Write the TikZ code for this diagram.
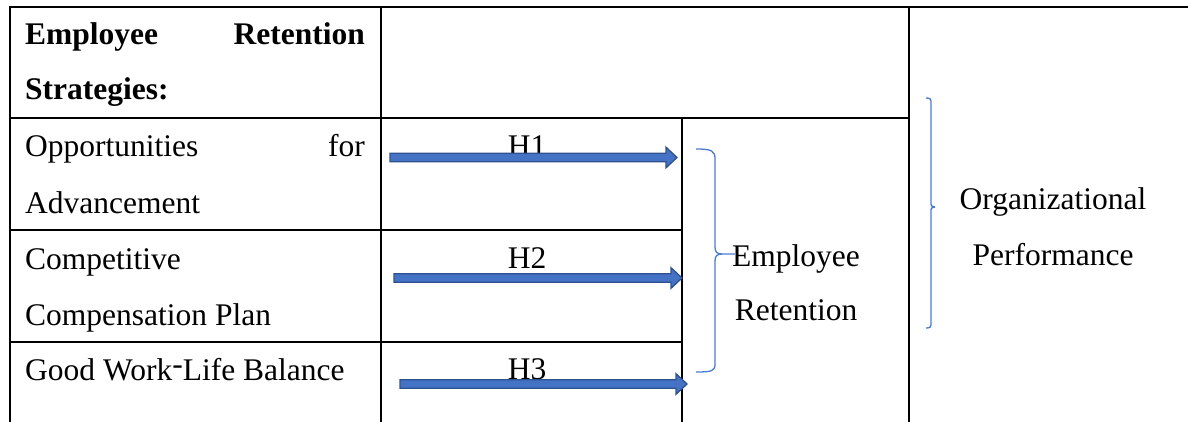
\documentclass[tikz,border=0pt]{standalone}
\usepackage{fontspec}
\setmainfont{Liberation Serif}
\usetikzlibrary{calc}
\definecolor{arrfill}{HTML}{4472C4}
\definecolor{arrline}{HTML}{2F528F}
\definecolor{bracecol}{HTML}{4A7BD0}
\tikzset{
  grid/.style={line width=1.9pt, black, line cap=rect},
  txt/.style={inner sep=0pt, font=\fontsize{31.5}{38}\selectfont},
  btxt/.style={txt, font=\fontsize{31.5}{38}\selectfont\bfseries},
  barrow/.style={fill=arrfill, draw=arrline, line width=1.3pt, line join=miter},
  bracepath/.style={draw=bracecol, line width=1.3pt}
}
\newcommand{\blockarr}[2]{%
  \draw[barrow] ($(#1)+(0,-4.3)$) -- ($(#2)+(-11,-4.3)$) -- ($(#2)+(-11,-10.3)$) -- (#2)
    -- ($(#2)+(-11,10.3)$) -- ($(#2)+(-11,4.3)$) -- ($(#1)+(0,4.3)$) -- cycle;}
\begin{document}
\begin{tikzpicture}[x=1pt,y=-1pt]
\useasboundingbox (0,0) rectangle (1188,422);
% table grid
\draw[grid] (10,7) -- (1190,7);
\draw[grid] (10,7) -- (10,424);
\draw[grid] (381,7) -- (381,424);
\draw[grid] (909,7) -- (909,424);
\draw[grid] (10,118) -- (909,118);
\draw[grid] (682,118) -- (682,424);
\draw[grid] (10,230) -- (682,230);
\draw[grid] (10,342) -- (682,342);
% header
\node[btxt, anchor=base west] (h1a) at (25,45) {Employee};
\node[btxt, anchor=base east] (h1b) at (365,45) {Retention};
\node[btxt, anchor=base west] (h2) at (25,100) {Strategies:};
% rows
\node[txt, anchor=base west] (r1a) at (25,157) {Opportunities};
\node[txt, anchor=base east] (r1b) at (365,157) {for};
\node[txt, anchor=base west] (r1c) at (25,213) {Advancement};
\node[txt, anchor=base west] (r2a) at (25,269) {Competitive};
\node[txt, anchor=base west] (r2b) at (25,325) {Compensation Plan};
\node[txt, anchor=base west] (r3a) at (25,380) {Good Work\raisebox{0.18em}{-}Life Balance};
% hypothesis labels
\node[txt, anchor=base] (H1) at (527,157) {H1};
\node[txt, anchor=base] (H2) at (527,268) {H2};
\node[txt, anchor=base] (H3) at (527,379) {H3};
% arrows
\coordinate (a1s) at (390,157.5);
\coordinate (a1e) at (677,157.5);
\coordinate (a2s) at (394,278);
\coordinate (a2e) at (682,278);
\coordinate (a3s) at (400,384);
\coordinate (a3e) at (687,384);
\blockarr{a1s}{a1e}
\blockarr{a2s}{a2e}
\blockarr{a3s}{a3e}
% employee retention
\node[txt, anchor=base] (er1) at (796,266) {Employee};
\node[txt, anchor=base] (er2) at (796,320) {Retention};
% organizational performance
\node[txt, anchor=base] (op1) at (1053,210) {Organizational};
\node[txt, anchor=base] (op2) at (1053,265) {Performance};
% brace 1
\draw[bracepath] (696,149) .. controls (712,149) and (715,151) .. (715,159)
  -- (715,247) .. controls (715,252) and (717,254) .. (722,254) -- (735,254);
\draw[bracepath] (722,254) .. controls (717,254) and (715,256) .. (715,261)
  -- (715,364) .. controls (715,371) and (712,372) .. (696,372);
% brace 2
\draw[bracepath] (926,98) .. controls (930,98) and (931,99) .. (931,101)
  -- (931,204) .. controls (931,206) .. (935,207);
\draw[bracepath] (935,207) .. controls (931,208) .. (931,210)
  -- (931,325) .. controls (931,327) and (930,328) .. (926,328);
\end{tikzpicture}
\end{document}
